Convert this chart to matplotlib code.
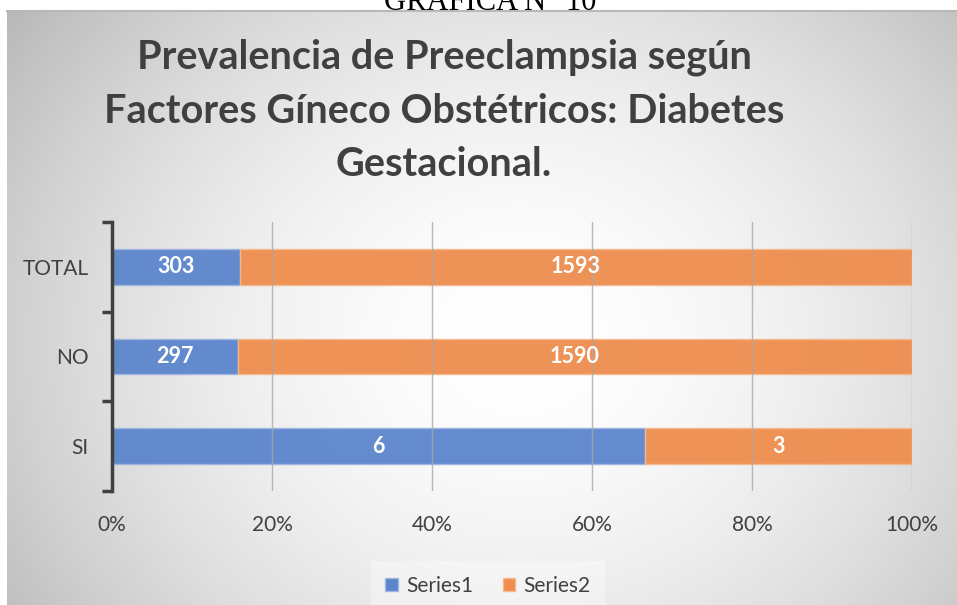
import numpy as np
import matplotlib
matplotlib.use("Agg")
import matplotlib.pyplot as plt
from matplotlib.patches import Patch

# ---- data ----
categories = ["SI", "NO", "TOTAL"]
series1 = [6, 297, 303]
series2 = [3, 1590, 1593]
series_names = ["Series1", "Series2"]
xtick_labels = ["0%", "20%", "40%", "60%", "80%", "100%"]
title = "Prevalencia de Preeclampsia según\nFactores Gíneco Obstétricos: Diabetes\nGestacional."
caption = "GRÁFICA N° 10"

W, H = 957, 605
fig = plt.figure(figsize=(W / 100, H / 100), dpi=100)
fig.patch.set_facecolor("white")

FONT = "Lato"
TXT = "#404040"
BLUE = "#5B85CB"
ORANGE = "#EE8D4E"

# ---- chart area background (radial gradient) ----
bx0, by0 = 7, 11
bg = fig.add_axes([bx0 / W, 0, (W - bx0) / W, (H - by0) / H], zorder=0)
bw, bh = W - bx0, H - by0
yy, xx = np.mgrid[0:bh, 0:bw]
cx, cy = 520 - bx0, 340 - by0
r = np.sqrt((xx - cx) ** 2 + ((yy - cy) * 1.15) ** 2)
v = 1 - 0.25 * np.clip(r / 600, 0, 1.2) ** 1.8
img = np.dstack([v, v, v])
bg.imshow(img, aspect="auto", interpolation="bilinear", extent=[0, 1, 0, 1])
bg.set_xlim(0, 1)
bg.set_ylim(0, 1)
bg.axis("off")
fig.add_artist(plt.Line2D([bx0 / W, 1], [1 - by0 / H, 1 - by0 / H],
                          color="#b8b8b8", lw=1.5, zorder=1))

# caption (cut off at top, as in the source)
fig.text(490 / W, 1 - 10 / H, caption, family="Liberation Serif", fontsize=22,
         color="black", ha="center", va="baseline", zorder=2)

# title
fig.text(444 / W, 1 - 111 / H, title, family=FONT, fontweight="bold",
         fontsize=28.5, color=TXT, ha="center", va="center",
         linespacing=1.55, zorder=3)

# ---- plot axes ----
left, right, top, bottom = 112, 912, 222, 491
ax = fig.add_axes([left / W, 1 - bottom / H, (right - left) / W, (bottom - top) / H], zorder=4)
ax.patch.set_alpha(0)

totals = [a + b for a, b in zip(series1, series2)]
p1 = [a / t for a, t in zip(series1, totals)]
p2 = [b / t for b, t in zip(series2, totals)]
y = np.arange(len(categories))
bar_h = 0.4
ax.barh(y, p1, height=bar_h, color=BLUE, edgecolor="#9db5e0", linewidth=1, zorder=3, alpha=0.95)
ax.barh(y, p2, left=p1, height=bar_h, color=ORANGE, edgecolor="#f6b98e", linewidth=1, zorder=3, alpha=0.95)

for i in range(len(categories)):
    ax.text(p1[i] / 2, y[i], str(series1[i]), ha="center", va="center",
            color="white", fontweight="bold", fontsize=15.5, family=FONT, zorder=5)
    ax.text(p1[i] + p2[i] / 2, y[i], str(series2[i]), ha="center", va="center",
            color="white", fontweight="bold", fontsize=15.5, family=FONT, zorder=5)

ax.set_xlim(0, 1)
ax.set_ylim(-0.5, len(categories) - 0.5)
xt = np.linspace(0, 1, len(xtick_labels))
ax.set_xticks(xt)
ax.set_xticklabels(xtick_labels, family=FONT, fontsize=15, color=TXT)
for xv in xt[1:]:
    ax.axvline(xv, color="#a8a8a8", lw=1, zorder=4, alpha=0.8)

ax.set_yticks(y)
ax.set_yticklabels(categories, family=FONT, fontsize=15, color=TXT)
ax.set_yticks(np.arange(-0.5, len(categories), 1.0), minor=True)
ax.tick_params(axis="y", which="major", length=0, pad=17)
ax.tick_params(axis="y", which="minor", length=7, width=2.5, color="#404040", direction="out")
ax.tick_params(axis="x", length=0, pad=17)

for s in ["top", "right", "bottom"]:
    ax.spines[s].set_visible(False)
ax.spines["left"].set_color("#404040")
ax.spines["left"].set_linewidth(2.5)
ax.spines["left"].set_zorder(6)

# legend
handles = [Patch(facecolor=BLUE, edgecolor="#9db5e0"), Patch(facecolor=ORANGE, edgecolor="#f6b98e")]
leg = fig.legend(handles, series_names, loc="center", bbox_to_anchor=(488 / W, 1 - 586 / H),
                 ncol=2, frameon=True, prop={"family": FONT, "size": 15},
                 handlelength=0.6, handleheight=0.6, handletextpad=0.4, columnspacing=1.4,
                 borderpad=0.7, fancybox=False)
leg.get_frame().set_facecolor("white")
leg.get_frame().set_alpha(0.35)
leg.get_frame().set_edgecolor("none")
for t in leg.get_texts():
    t.set_color(TXT)

fig.savefig("out.png", dpi=100)
